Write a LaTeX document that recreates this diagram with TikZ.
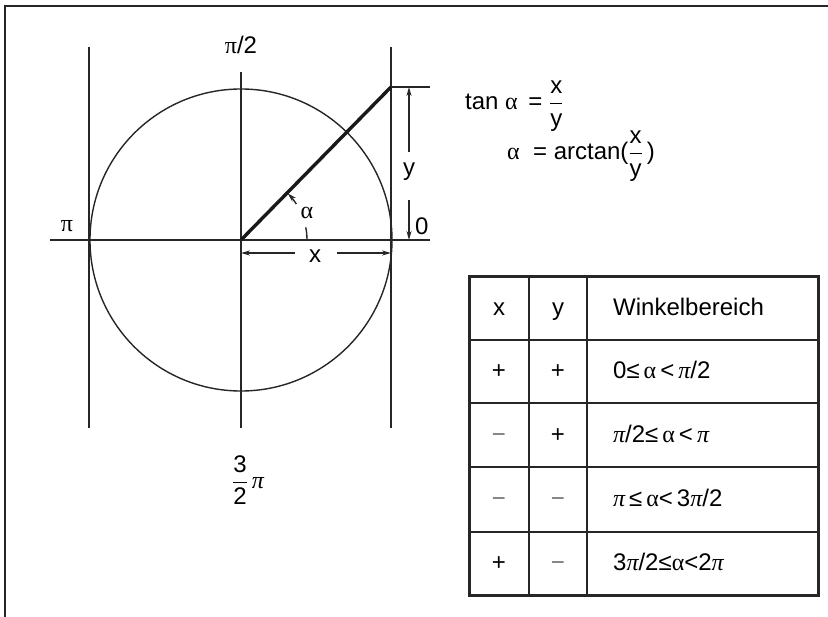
\RequirePackage{fix-cm}
\documentclass[tikz,border=0pt]{standalone}
\usepackage{amsmath}
\usepackage{fontspec}
\setmainfont{Liberation Sans}
\newfontfamily\grkfont{Liberation Serif}
\usetikzlibrary{arrows.meta,calc}
\newcommand{\gal}{{\grkfont α}}
\newcommand{\gpi}{{\grkfont π}}
\newcommand{\gpit}{{\grkfont\itshape π}}
\tikzset{
  frameline/.style={line width=2pt,draw=black!85},
  axis/.style={line width=1.4pt,draw=black!85},
  vec/.style={line width=3.4pt,draw=black!90},
  dim/.style={-{Stealth[length=9pt,width=5pt]},line width=1.4pt,draw=black!85},
  lbl/.style={inner sep=1pt,font=\fontsize{24}{28}\selectfont},
  cell/.style={inner sep=1pt,text height=17pt,text depth=5pt,font=\fontsize{24}{28}\selectfont},
  faint/.style={text=black!55},
  tabframe/.style={line width=3pt,draw=black!85},
  tabrule/.style={line width=1.5pt,draw=black!85},
}

\begin{document}
\begin{tikzpicture}[x=1pt,y=-1pt]
  \useasboundingbox (0,0) rectangle (828,617);
  \draw[frameline] (5,617) -- (5,6) -- (828,6);

  % unit circle and axes
  \coordinate (O) at (241,240);
  \coordinate (P) at (391,87);
  \draw[axis] (O) circle[radius=151];
  \draw[axis] (89,47) -- (89,428);
  \draw[axis] (391,47) -- (391,428);
  \draw[axis] (241,72) -- (241,428);
  \draw[axis] (50,240) -- (430,240);
  \draw[axis] (P) -- (430,87);
  \draw[vec] (O) -- (P);

  \node[lbl] (halfpi) at (241,45) {\gpi/2};
  \node[lbl] (pilab) at (67,226) {\gpi};
  \node[lbl] (threehalf) at (248,480) {$\dfrac{\text{3}}{\text{2}}$\,\gpit};
  \node[lbl] (ylab) at (409,172) {y};
  \node[lbl] (xlab) at (315,256) {x};
  \node[lbl] (alab) at (307,213) {\gal};
  \node[lbl,anchor=west] (zero) at (414,226) {0};

  % dimension arrows
  \coordinate (ytop) at (409,87);
  \coordinate (ybot) at (409,240);
  \coordinate (yg1) at (409,152);
  \coordinate (yg2) at (409,200);
  \draw[dim] (yg1) -- (ytop);
  \draw[dim] (yg2) -- (ybot);
  \coordinate (xl) at (241,253);
  \coordinate (xr) at (391,253);
  \coordinate (xg1) at (295,253);
  \coordinate (xg2) at (337,253);
  \draw[dim] (xg1) -- (xl);
  \draw[dim] (xg2) -- (xr);
  \draw[axis] ($(O)+(0:66)$) arc[start angle=0,end angle=-11,radius=66];
  \draw[dim] ($(O)+(-33:66)$) arc[start angle=-33,end angle=-45,radius=66];

  % formulas
  \node[lbl,anchor=base west] (tanf) at (464,110) {tan \gal\ \,= $\dfrac{\text{x}}{\text{y}}$};
  \node[lbl,anchor=base west] (arcf) at (506,160) {\gal\ \ = arctan($\dfrac{\text{x}}{\text{y}}$\,)};

  % table
  \draw[tabframe] (469,277) rectangle (818,595);
  \draw[tabrule] (529,277) -- (529,595);
  \draw[tabrule] (587,277) -- (587,595);
  \foreach \yy in {340,403,467,532}
    \draw[tabrule] (469,\yy) -- (818,\yy);

  \node[cell] (hx) at (499,310) {x};
  \node[cell] (hy) at (558,310) {y};
  \node[cell,anchor=west] (hw) at (612,310) {Winkelbereich};
  \node[cell] (ax) at (499,373) {+};
  \node[cell] (ay) at (558,373) {+};
  \node[cell,anchor=west] (aw) at (612,373) {0≤\,\gal\,<\,\gpit/2};
  \node[cell,faint] (bx) at (499,437) {−};
  \node[cell] (by) at (558,437) {+};
  \node[cell,anchor=west] (bw) at (612,437) {\gpit/2≤\,\gal\,<\,\gpit};
  \node[cell,faint] (cx) at (499,501) {−};
  \node[cell,faint] (cy) at (558,501) {−};
  \node[cell,anchor=west] (cw) at (612,501) {\gpit\,≤\,\gal<\,3\gpit/2};
  \node[cell] (dx) at (499,565) {+};
  \node[cell,faint] (dy) at (558,565) {−};
  \node[cell,anchor=west] (dw) at (612,565) {3\gpit/2≤\gal<2\gpit};
\end{tikzpicture}
\end{document}
